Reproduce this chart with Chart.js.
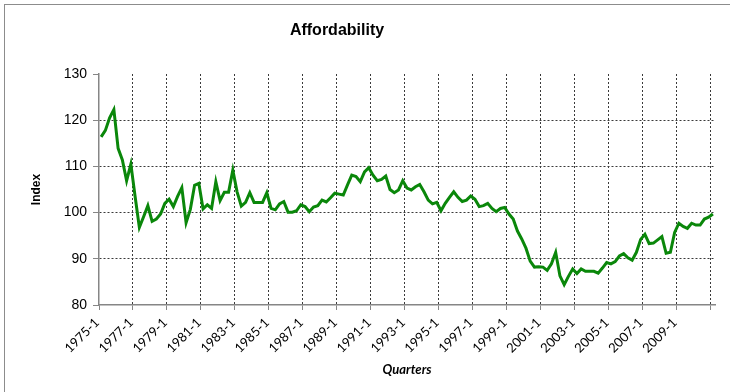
<!DOCTYPE html>
<html>
<head>
<meta charset="utf-8">
<script src="https://cdn.jsdelivr.net/npm/chart.js@4/dist/chart.umd.min.js"></script>
<style>
    html, body { margin: 0; padding: 0; background: #fff; }
    #wrap { position: relative; width: 730px; height: 392px; overflow: hidden; }
    #frame {
        position: absolute; left: 4px; top: 4px; width: 800px; height: 500px;
        border-left: 1px solid #8c8c8c; border-top: 1px solid #8c8c8c;
        pointer-events: none;
    }
</style>
</head>
<body>
<div id="wrap">
    <canvas id="chart" width="730" height="392"></canvas>
    <div id="frame"></div>
</div>
<script>
// quarterly index, 1975-1 .. 2011-1
const START_YEAR = 1975;
const values1975to1979 = [
    116.4, 117.8, 120.5, 122.3, 113.9, 111.4, 106.9, 110.5, 103.5, 96.8,
    99.1, 101.5, 98.1, 98.6, 99.7, 102.0, 102.9, 101.3, 103.5, 105.4
];
const values1980s = [
    97.8, 100.7, 105.9, 106.3, 100.8, 101.7, 100.9, 106.7, 102.6, 104.4,
    104.4, 109.2, 104.5, 101.4, 102.2, 104.3, 102.2, 102.2, 102.2, 104.3,
    100.9, 100.6, 101.9, 102.4, 100.1, 100.1, 100.4, 101.7, 101.3, 100.2,
    101.2, 101.5, 102.7, 102.3, 103.2, 104.2, 104.0, 103.8, 106.0, 108.1
];
const values1990s = [
    107.8, 106.7, 108.8, 109.7, 108.1, 106.9, 107.2, 107.9, 105.0, 104.3,
    104.9, 106.9, 105.3, 104.9, 105.6, 106.1, 104.5, 102.7, 101.9, 102.2,
    100.4, 102.0, 103.3, 104.5, 103.3, 102.4, 102.7, 103.6, 102.9, 101.3,
    101.5, 102.0, 100.9, 100.2, 100.9, 101.1, 99.7, 98.6, 96.0, 94.3
];
const values2000s = [
    92.3, 89.5, 88.2, 88.3, 88.2, 87.5, 88.9, 91.4, 86.3, 84.4,
    86.2, 87.8, 86.8, 87.8, 87.3, 87.3, 87.3, 86.9, 88.0, 89.2,
    88.9, 89.4, 90.6, 91.1, 90.2, 89.7, 91.4, 94.2, 95.3, 93.3,
    93.4, 94.1, 94.8, 91.2, 91.4, 95.7, 97.7, 97.0, 96.6, 97.7,
    97.3, 97.3, 98.6, 99.0, 99.7
];
const affordability = [...values1975to1979, ...values1980s, ...values1990s, ...values2000s];

const quarters = affordability.map((v, i) => `${START_YEAR + Math.floor(i / 4)}-${(i % 4) + 1}`);
const LABEL_EVERY = 8;
const LAST_LABEL = "2009-1";
const yTicks = [80, 90, 100, 110, 120, 130];

const GRID = "#3a3a3a";
const AXIS = "#868686";

const titlePlugin = {
    id: "chartTitle",
    afterDraw(chart) {
        const ctx = chart.ctx;
        ctx.save();
        ctx.font = "bold 16px 'Liberation Sans', Arial, sans-serif";
        ctx.fillStyle = "#000";
        ctx.textAlign = "center";
        ctx.textBaseline = "middle";
        ctx.fillText("Affordability", 337, 31);
        ctx.restore();
    }
};

new Chart(document.getElementById("chart"), {
    type: "line",
    data: {
        labels: quarters,
        datasets: [{
            label: "Affordability",
            data: affordability,
            borderColor: "#0a870a",
            borderWidth: 3,
            pointRadius: 0,
            tension: 0,
            fill: false
        }]
    },
    plugins: [titlePlugin],
    options: {
        responsive: false,
        animation: false,
        layout: { padding: { left: 0, top: 74, right: 15, bottom: 0 } },
        plugins: { legend: { display: false }, tooltip: { enabled: false } },
        scales: {
            x: {
                type: "category",
                offset: true,
                afterFit(scale) { scale.height = 87; },
                grid: {
                    offset: true,
                    drawTicks: true,
                    tickLength: 5,
                    lineWidth: 1,
                    color: c => (c.index % LABEL_EVERY === 0 && c.index > 0 && c.index < quarters.length) ? GRID : "rgba(0,0,0,0)",
                    tickColor: c => (c.index % LABEL_EVERY === 0 && c.index <= quarters.length) ? AXIS : "rgba(0,0,0,0)"
                },
                border: { display: true, color: AXIS, width: 1.5, dash: [2, 2] },
                ticks: {
                    autoSkip: false,
                    minRotation: 45,
                    maxRotation: 45,
                    padding: 5,
                    labelOffset: -4,
                    color: "#000",
                    font: { family: "Lato, 'Open Sans', sans-serif", size: 13 },
                    callback(value, index) {
                        const lab = quarters[index];
                        if (index % LABEL_EVERY !== 0) return "";
                        return index <= quarters.indexOf(LAST_LABEL) ? lab : "";
                    }
                },
                title: {
                    display: true,
                    text: "Quarters",
                    color: "#000",
                    font: { family: "Lato, 'Open Sans', sans-serif", size: 13, weight: "bold", style: "italic" },
                    padding: { top: 0, bottom: 14 }
                }
            },
            y: {
                min: yTicks[0],
                max: yTicks[yTicks.length - 1],
                afterFit(scale) { scale.width = 99; },
                afterBuildTicks(scale) { scale.ticks = yTicks.map(v => ({ value: v })); },
                grid: {
                    drawTicks: true,
                    tickLength: 6,
                    lineWidth: 1,
                    color: c => (c.tick && c.tick.value > yTicks[0] && c.tick.value < yTicks[yTicks.length - 1]) ? GRID : "rgba(0,0,0,0)",
                    tickColor: AXIS
                },
                border: { display: true, color: AXIS, width: 1.5, dash: [2, 2] },
                ticks: {
                    padding: 6,
                    color: "#000",
                    font: { family: "'Liberation Sans', Arial, sans-serif", size: 14 }
                },
                title: {
                    display: true,
                    text: "Index",
                    color: "#000",
                    font: { family: "'Liberation Sans', Arial, sans-serif", size: 12, weight: "bold" },
                    padding: { top: 29, bottom: 0 }
                }
            }
        }
    }
});
</script>
</body>
</html>
